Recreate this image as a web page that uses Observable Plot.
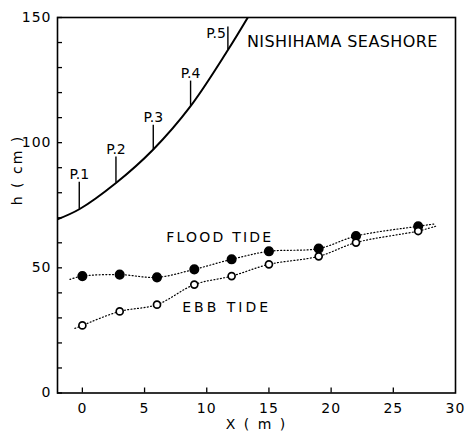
<!DOCTYPE html>
<html><head><meta charset="utf-8">
<script src="https://cdn.jsdelivr.net/npm/d3@7"></script>
<script src="https://cdn.jsdelivr.net/npm/@observablehq/plot@0.6"></script>
<style>body{margin:0;background:#fff}</style>
</head><body><div id="chart"></div>
<script>
// Stations (m) and water levels (cm)
const stationX = [0, 3, 6, 9, 12, 15, 19, 22, 27];
const floodH = [46.7, 47.3, 46.2, 49.4, 53.4, 56.6, 57.7, 62.7, 66.6];
const ebbH = [27.0, 32.6, 35.3, 43.3, 46.7, 51.4, 54.6, 60.1, 64.7];
// dotted guide lines (points + drawn extensions)
const floodLineX = [-1.0, 0, 3, 6, 9, 12, 15, 19, 22, 27, 28.4];
const floodLineH = [45.4, 46.7, 47.3, 46.2, 49.4, 53.4, 56.6, 57.7, 62.7, 66.6, 67.6];
const ebbLineX = [-0.6, 0, 3, 6, 9, 12, 15, 19, 22, 27, 28.4];
const ebbLineH = [25.8, 27.0, 32.6, 35.3, 43.3, 46.7, 51.4, 54.6, 60.1, 64.7, 66.6];
// beach profile
const profileX = [-2, -0.25, 2.7, 5.7, 8.7, 11.7, 13.3];
const profileH = [69.4, 73.4, 83.9, 97.3, 114.6, 137.0, 150];
// measuring points
const pLabels = ["P.1", "P.2", "P.3", "P.4", "P.5"];
const pX = [-0.25, 2.7, 5.7, 8.7, 11.7];
const pBase = [73.4, 83.9, 97.3, 114.6, 137.0];
const pTop = [84.2, 94.3, 107.0, 124.6, 146.2];
// annotations
const noteText = ["NISHIHAMA SEASHORE", "FLOOD TIDE", "EBB TIDE"];
const noteX = [20.9, 11.05, 11.6];
const noteY = [140.2, 62.2, 34.2];
const noteSize = [16, 14, 14];
// ticks
const xTickLabels = [0, 5, 10, 15, 20, 25, 30];
const xTicks = [0, 5, 10, 15, 20, 25];
const yTicks = d3.range(0, 151, 10);
const yTickLabels = [0, 50, 100, 150];

const W = 468, H = 437, mL = 57, mR = 13, mT = 17, mB = 44.5;
const fw = W - mL - mR, fh = H - mT - mB;

const rows = (xs, ys) => xs.map((x, i) => ({x, y: ys[i]}));
const pts = pLabels.map((label, i) => ({label, x: pX[i], y1: pBase[i], y2: pTop[i]}));
const notes = noteText.map((t, i) => ({t, x: noteX[i], y: noteY[i], s: noteSize[i]}));

const chart = Plot.plot({
  width: W, height: H,
  marginLeft: mL, marginRight: mR, marginTop: mT, marginBottom: mB,
  style: {fontFamily: "DejaVu Sans", fontSize: "14px", color: "#000", background: "#fff"},
  x: {domain: [-2, 30]},
  y: {domain: [0, 150]},
  marks: [
    Plot.frame({stroke: "#000", strokeWidth: 1.6}),
    Plot.tickY(yTicks, {y: d => d, insetRight: fw - 5, stroke: "#000", strokeWidth: 1.3}),
    Plot.tickX(xTicks, {x: d => d, insetTop: fh - 5, stroke: "#000", strokeWidth: 1.3}),
    Plot.axisY(yTickLabels, {anchor: "left", tickSize: 0, tickPadding: 6, label: null, fontSize: 14}),
    Plot.axisX(xTickLabels, {anchor: "bottom", tickSize: 0, tickPadding: 10, label: null, fontSize: 14}),
    Plot.text(["h ( cm )"], {text: d => d, frameAnchor: "left", dx: -40, rotate: -90, fontSize: 14}),
    Plot.text(["X ( m )"], {text: d => d, frameAnchor: "bottom", dy: 36, fontSize: 14}),
    Plot.line(rows(profileX, profileH), {x: "x", y: "y", curve: "catmull-rom", stroke: "#000", strokeWidth: 2, clip: true}),
    Plot.ruleX(pts, {x: "x", y1: "y1", y2: "y2", stroke: "#000", strokeWidth: 1.4}),
    Plot.text(pts.slice(0, 4), {x: "x", y: "y2", text: "label", lineAnchor: "bottom", dy: -3, fontSize: 14}),
    Plot.text(pts.slice(4), {x: "x", y: "y2", text: "label", textAnchor: "end", lineAnchor: "top", dx: -2, dy: 1, fontSize: 14}),
    Plot.line(rows(floodLineX, floodLineH), {x: "x", y: "y", curve: "catmull-rom", stroke: "#000", strokeWidth: 1.2, strokeDasharray: "1,2.3"}),
    Plot.line(rows(ebbLineX, ebbLineH), {x: "x", y: "y", curve: "catmull-rom", stroke: "#000", strokeWidth: 1.2, strokeDasharray: "1,2.3"}),
    Plot.dot(rows(stationX, floodH), {x: "x", y: "y", r: 4.3, fill: "#000", stroke: "#000"}),
    Plot.dot(rows(stationX, ebbH), {x: "x", y: "y", r: 3.5, fill: "#fff", stroke: "#000", strokeWidth: 1.7}),
    Plot.text(notes, {x: "x", y: "y", text: "t", fontSize: "s"})
  ]
});
document.getElementById("chart").append(chart);
const spacing = {"NISHIHAMA SEASHORE": 0.4, "FLOOD TIDE": 2.2, "EBB TIDE": 3, "X ( m )": 2, "h ( cm )": 2};
d3.select(chart).selectAll("text").each(function() {
  const t = this.textContent;
  if (spacing[t] != null) this.setAttribute("letter-spacing", spacing[t]);
  else if (/^\d+$/.test(t)) this.setAttribute("letter-spacing", 1);
});
</script></body></html>
